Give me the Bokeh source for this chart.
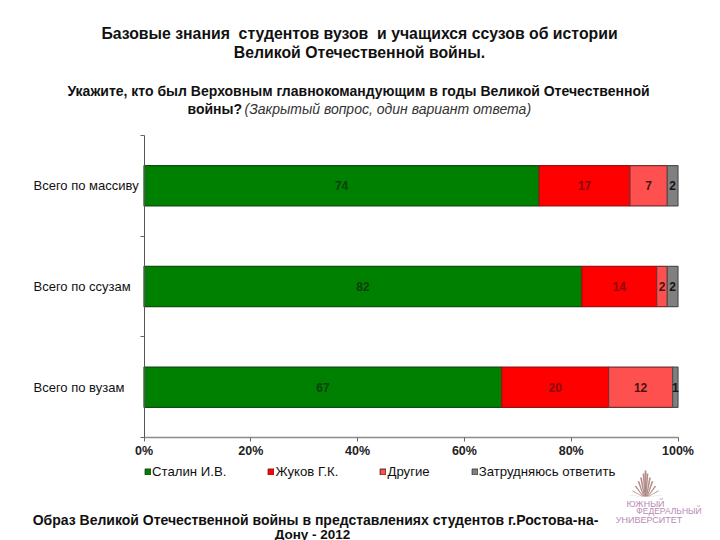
from bokeh.plotting import figure
from bokeh.core.properties import value
from bokeh.models import (ColumnDataSource, Range1d, FixedTicker, Label, LabelSet, Legend, LegendItem,
                          LinearAxis, PolyAnnotation)
from bokeh.embed import file_html
from bokeh.resources import INLINE

categories = ["Всего по вузам", "Всего по ссузам", "Всего по массиву"]
stalin = [67, 82, 74]
zhukov = [20, 14, 17]
other = [12, 2, 7]
unsure = [1, 2, 2]
series_names = ["Сталин И.В.", "Жуков Г.К.", "Другие", "Затрудняюсь ответить"]
series_values = [stalin, zhukov, other, unsure]
fills = ["#008000", "#ff0000", "#ff5050", "#808080"]
edges = ["#0f4f0f", "#a01010", "#7a3030", "#505050"]
label_colors = ["#0c400c", "#8a0808", "#4a1414", "#151515"]
x_ticks = [0, 20, 40, 60, 80, 100]
FONT = "Liberation Sans"

W, H = 720, 540
L, R, T, B = 143.5, 677.5, 135, 437
sx = (R - L) / 100
sy = (B - T) / 3
p = figure(width=W, height=H, output_backend="svg", toolbar_location=None,
           x_range=Range1d(-L / sx, (W - L) / sx), y_range=Range1d(-(H - B) / sy, 3 + T / sy),
           min_border=0, x_axis_location=None, y_axis_location=None,
           outline_line_color=None)
p.grid.visible = False
p.background_fill_color = "white"

ys = [i + 0.5 for i in range(3)]
left = [0, 0, 0]
items = []
for name, vals, f, e, c in zip(series_names, series_values, fills, edges, label_colors):
    right = [a + b for a, b in zip(left, vals)]
    src = ColumnDataSource(dict(y=ys, left=left, right=right, mid=[(a + b) / 2 for a, b in zip(left, right)],
                                txt=[str(v) for v in vals]))
    r = p.hbar(y="y", left="left", right="right", height=0.4, source=src, fill_color=f, line_color=e, line_width=1.2)
    p.add_layout(LabelSet(x="mid", y="y", text="txt", source=src, text_align="center", text_baseline="middle",
                          text_font=value(FONT), text_font_size="12px", text_font_style="bold", text_color=c))
    items.append(LegendItem(label=name, renderers=[r]))
    left = right

cat_src = ColumnDataSource(dict(x=[33] * 3, y=ys, t=categories))
p.add_layout(LabelSet(x="x", y="y", text="t", source=cat_src, x_units="screen", text_align="left",
                      text_baseline="middle", text_font=value(FONT), text_font_size="13px", text_color="#111111"))

ax = LinearAxis(fixed_location=0, bounds=(0, 100))
ax.ticker = FixedTicker(ticks=x_ticks)
ax.major_label_overrides = {v: f"{v}%" for v in x_ticks}
ax.axis_line_color = "#8c8c8c"
ax.axis_line_width = 1.5
ax.major_tick_line_color = "#666666"
ax.major_tick_in = 0
ax.major_tick_out = 4
ax.minor_tick_line_color = None
ax.major_label_standoff = 2
ax.major_label_text_font = FONT
ax.major_label_text_font_size = "12.5px"
ax.major_label_text_font_style = "bold"
ax.major_label_text_color = "#222222"
p.add_layout(ax, "below")

ay = LinearAxis(fixed_location=0, bounds=(0, 3))
ay.ticker = FixedTicker(ticks=[0, 1, 2, 3])
ay.major_label_overrides = {0: "", 1: "", 2: "", 3: ""}
ay.axis_line_color = "#555555"
ay.major_tick_line_color = "#666666"
ay.major_tick_in = 0
ay.major_tick_out = 4
ay.minor_tick_line_color = None
p.add_layout(ay, "left")

legend = Legend(items=items, orientation="horizontal", location=(144, H - 479), spacing=41, padding=0, margin=0,
                border_line_color=None, background_fill_alpha=0, glyph_width=7, glyph_height=7, label_standoff=1,
                label_text_font=FONT, label_text_font_size="13.2px", label_text_color="#111111",
                label_height=10, label_text_line_height=1.0)
p.add_layout(legend, "center")


def txt(s, cx, y, size, style="bold", color="#111111", align="center"):
    p.add_layout(Label(x=cx, y=H - y, x_units="screen", y_units="screen", text=s, text_font=FONT,
                       text_font_size=f"{size}px", text_font_style=style, text_color=color,
                       text_align=align, text_baseline="middle"))


txt("Базовые знания\u00a0 студентов вузов\u00a0 и учащихся ссузов об истории", 359, 33, 15.8)
txt("Великой Отечественной войны.", 359, 52, 15.8)
txt("Укажите, кто был Верховным главнокомандующим в годы Великой Отечественной", 358, 90, 14)
txt("войны?", 187, 108, 14, align="left")
txt("(Закрытый вопрос, один вариант ответа)", 244, 108, 14, style="italic", color="#333333", align="left")
txt("Образ Великой Отечественной войны в представлениях студентов г.Ростова-на-", 315, 519, 14)
txt("Дону - 2012", 312, 533.5, 13.5)

# logo (decorative fan, pixel placed)
ray_offsets = [-16, -13, -10, -7, -4.5, -2, 0, 2, 4.5, 7, 10, 13, 16]
for i, dx in enumerate(ray_offsets):
    apex_h = 27 - abs(dx) * 1.55
    xs = [645 + dx * 0.25 - 0.5, 645 + dx * 0.25 + 0.5, 645 + dx + 0.9, 645 + dx - 0.9]
    yy = [H - 496, H - 496, H - (497 - apex_h), H - (497 - apex_h)]
    p.add_layout(PolyAnnotation(xs=xs, ys=yy, xs_units="screen", ys_units="screen",
                                fill_color="#a58a6a" if i % 2 else "#b07a90", fill_alpha=0.9, line_color=None))
txt("ЮЖНЫЙ", 645, 503, 9, style="normal", color="#b98ab5")
txt("ФЕДЕРАЛЬНЫЙ", 668.5, 510.5, 8.5, style="normal", color="#b98ab5")
txt("УНИВЕРСИТЕТ", 648.5, 519, 9, style="normal", color="#b98ab5")

open("out.html", "w").write(file_html(p, INLINE))
